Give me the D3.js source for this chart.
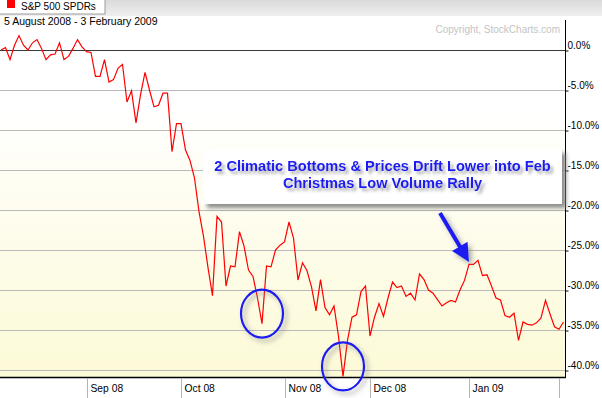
<!DOCTYPE html>
<html>
<head>
<meta charset="utf-8">
<script src="https://cdn.jsdelivr.net/npm/d3@7"></script>
<style>
    body { margin: 0; background: #fff; }
    svg { display: block; font-family: "Liberation Sans", Arial, sans-serif; }
</style>
</head>
<body>
<div id="chart"></div>
<script>
// S&P 500 SPDRs, % change since 5 Aug 2008, one value per trading day
const pctChange = [
    0, 0.3, -1.2, 0.6, 1.8, 0.6, 0, 0.9, 1.3, 0.2,
    -1.2, -0.6, -0.5, 0.9, -1.2, -0.8, 0.2, 1.3, 0.4, -0.2,
    -0.3, -3.3, -3.3, -1.2, -4.0, -3.7, -2.3, -1.8, -6.5, -5.1,
    -9.1, -5.6, -2.8, -5.0, -7.1, -6.9, -5.4, -5.4, -12.7, -9.2,
    -9.2, -12.5, -13.8, -16.0, -20.2, -23.3, -27.2, -30.7, -20.8, -21.5,
    -29.5, -27.0, -27.1, -22.7, -24.5, -27.5, -28.3, -31.0, -34.2, -27.0,
    -27.1, -25.0, -24.4, -24.0, -21.5, -23.5, -28.75, -26.6, -27.6, -29.6,
    -32.6, -28.7, -32.2, -33.1, -32.0, -35.8, -40.8, -36.3, -33.4, -33.1,
    -30.2, -29.5, -35.75, -33.4, -31.7, -33.3, -31.0, -29.0, -29.7, -29.5,
    -30.8, -30.4, -31.25, -28.0, -28.7, -30.0, -30.4, -31.2, -32.0, -31.6,
    -31.3, -31.5, -30.0, -28.8, -26.8, -26.8, -26.3, -28.2, -28.1, -29.5,
    -31.0, -31.25, -33.2, -33.4, -32.9, -36.3, -34.0, -34.3, -34.4, -34.1,
    -33.5, -31.3, -33.0, -34.6, -34.9, -34.0
];

// first trading day of each month (index into pctChange) and its label
const monthStartIndex = [19, 40, 63, 82, 104, 124];
const monthLabels = ["Sep 08", "Oct 08", "Nov 08", "Dec 08", "Jan 09", ""];

const yTicks = [0, -5, -10, -15, -20, -25, -30, -35, -40];

// annotations
const climaticLows = [58, 76];
const rallyPeak = 106;
const noteLines = ["2 Climatic Bottoms & Prices Drift Lower into Feb", "Christmas Low Volume Rally"];

const width = 602, height = 398;
const plotLeft = 0, plotRight = 565, plotTop = 16, plotBottom = 377;
const blue = '#1a1af2';

const svg = d3.select('#chart').append('svg')
    .attr('width', width)
    .attr('height', height);

const defs = svg.append('defs');

const bg = defs.append('linearGradient')
    .attr('id', 'plotBg')
    .attr('x1', 0).attr('x2', 0).attr('y1', 0).attr('y2', 1);
bg.append('stop').attr('offset', '0%').attr('stop-color', '#ffffff');
bg.append('stop').attr('offset', '25%').attr('stop-color', '#ffffff');
bg.append('stop').attr('offset', '100%').attr('stop-color', '#fcfad6');

const bar = defs.append('linearGradient')
    .attr('id', 'topBar')
    .attr('x1', 0).attr('x2', 0).attr('y1', 0).attr('y2', 1);
bar.append('stop').attr('offset', '0%').attr('stop-color', '#dadada');
bar.append('stop').attr('offset', '100%').attr('stop-color', '#efefef');

function shadow(id, dx, dy, blur, opacity) {
    const f = defs.append('filter').attr('id', id)
        .attr('x', '-20%').attr('y', '-20%').attr('width', '150%').attr('height', '160%');
    f.append('feDropShadow')
        .attr('dx', dx).attr('dy', dy)
        .attr('stdDeviation', blur)
        .attr('flood-color', '#808080')
        .attr('flood-opacity', opacity);
}
shadow('boxShadow', 4, 4, 2, 0.9);
shadow('textShadow', 3, 3, 1.5, 0.7);
shadow('markShadow', 3, 3, 2.5, 0.7);

const x = d3.scaleLinear()
    .domain([0, pctChange.length - 1])
    .range([1, 563.5]);

const y = d3.scaleLinear()
    .domain([-40.875, 4.25])
    .range([plotBottom, plotTop]);

// header strip + legend tab
svg.append('rect')
    .attr('x', 0).attr('y', 0)
    .attr('width', width).attr('height', plotTop)
    .attr('fill', 'url(#topBar)');

svg.append('rect')
    .attr('x', -1).attr('y', -1)
    .attr('width', 106).attr('height', 15)
    .attr('fill', '#fff')
    .attr('stroke', '#9a9a9a');

svg.append('rect')
    .attr('x', 7).attr('y', 0)
    .attr('width', 8).attr('height', 8)
    .attr('fill', '#ff0000');

svg.append('text')
    .attr('x', 21).attr('y', 9.5)
    .style('font-size', '10px')
    .text('S&P 500 SPDRs');

// plot background
svg.append('rect')
    .attr('x', plotLeft).attr('y', plotTop)
    .attr('width', plotRight - plotLeft).attr('height', plotBottom - plotTop)
    .attr('fill', 'url(#plotBg)');

// gridlines
svg.append('g')
    .selectAll('line')
    .data(yTicks)
    .join('line')
    .attr('x1', plotLeft).attr('x2', plotRight)
    .attr('y1', d => Math.round(y(d)) + 0.5)
    .attr('y2', d => Math.round(y(d)) + 0.5)
    .attr('stroke', d => d === 0 ? '#3a3a3a' : '#b9b9b9');

svg.append('text')
    .attr('x', 4).attr('y', 25)
    .style('font-size', '10.5px')
    .text('5 August 2008 - 3 February 2009');

svg.append('text')
    .attr('x', 560).attr('y', 33)
    .attr('text-anchor', 'end')
    .attr('fill', '#c4c4c4')
    .style('font-size', '10px')
    .text('Copyright, StockCharts.com');

// right axis
const yAxis = svg.append('g')
    .attr('transform', `translate(${plotRight + 0.5},0.5)`)
    .call(d3.axisRight(y)
        .tickValues(yTicks)
        .tickSize(3)
        .tickSizeOuter(0)
        .tickFormat(d => d.toFixed(1) + '%'));
yAxis.select('.domain').remove();
yAxis.selectAll('text')
    .attr('x', 2)
    .attr('dy', -2)
    .attr('fill', '#000')
    .style('font-size', '10px')
    .style('font-family', '"Liberation Sans", Arial, sans-serif');

svg.append('line')
    .attr('x1', plotRight + 0.5).attr('x2', plotRight + 0.5)
    .attr('y1', 20).attr('y2', plotBottom + 1)
    .attr('stroke', '#000');

// bottom axis row
svg.append('line')
    .attr('x1', 0).attr('x2', plotRight + 1)
    .attr('y1', plotBottom + 0.5).attr('y2', plotBottom + 0.5)
    .attr('stroke', '#000')
    .attr('stroke-width', 1.5);

const months = svg.append('g')
    .selectAll('g')
    .data(monthStartIndex)
    .join('g')
    .attr('transform', d => `translate(${Math.round(x(d)) + 0.5},0)`);

months.append('line')
    .attr('y1', plotBottom + 1).attr('y2', height)
    .attr('stroke', '#b4b4b4');

months.append('text')
    .attr('x', 3).attr('y', 392)
    .style('font-size', '10.3px')
    .text((d, i) => monthLabels[i]);

// price line
const line = d3.line()
    .x((d, i) => x(i))
    .y(d => y(d));

svg.append('path')
    .datum(pctChange)
    .attr('d', line)
    .attr('fill', 'none')
    .attr('stroke', '#ff0000')
    .attr('stroke-width', 1.2)
    .attr('stroke-linejoin', 'miter');

// circled bottoms
svg.append('g')
    .selectAll('ellipse')
    .data(climaticLows)
    .join('ellipse')
    .attr('cx', d => x(d))
    .attr('cy', d => y(pctChange[d]) - 10)
    .attr('rx', 21)
    .attr('ry', 24)
    .attr('fill', 'none')
    .attr('stroke', blue)
    .attr('stroke-width', 2.2)
    .attr('filter', 'url(#markShadow)');

// arrow pointing at the Christmas rally high
const tipX = x(rallyPeak) - 9, tipY = y(pctChange[rallyPeak]) + 1.5;
const tailX = 440, tailY = 213;
const len = Math.hypot(tipX - tailX, tipY - tailY);
const ux = (tipX - tailX) / len, uy = (tipY - tailY) / len;
const headLen = 18, headHalf = 9;
const baseX = tipX - ux * headLen, baseY = tipY - uy * headLen;

const arrow = svg.append('g').attr('filter', 'url(#markShadow)');
arrow.append('line')
    .attr('x1', tailX).attr('y1', tailY)
    .attr('x2', baseX + ux * 2).attr('y2', baseY + uy * 2)
    .attr('stroke', blue)
    .attr('stroke-width', 4);
arrow.append('polygon')
    .attr('points', [
        [tipX, tipY],
        [baseX - uy * headHalf, baseY + ux * headHalf],
        [baseX + uy * headHalf, baseY - ux * headHalf]
    ].map(p => p.join(',')).join(' '))
    .attr('fill', blue);

// note box
svg.append('rect')
    .attr('x', 203).attr('y', 149)
    .attr('width', 359).attr('height', 55)
    .attr('fill', '#fff')
    .attr('filter', 'url(#boxShadow)');

svg.append('g')
    .attr('filter', 'url(#textShadow)')
    .selectAll('text')
    .data(noteLines)
    .join('text')
    .attr('x', 382.5)
    .attr('y', (d, i) => 171 + i * 17)
    .attr('text-anchor', 'middle')
    .attr('fill', blue)
    .style('font-size', '14.6px')
    .style('font-weight', 'bold')
    .text(d => d);
</script>
</body>
</html>
